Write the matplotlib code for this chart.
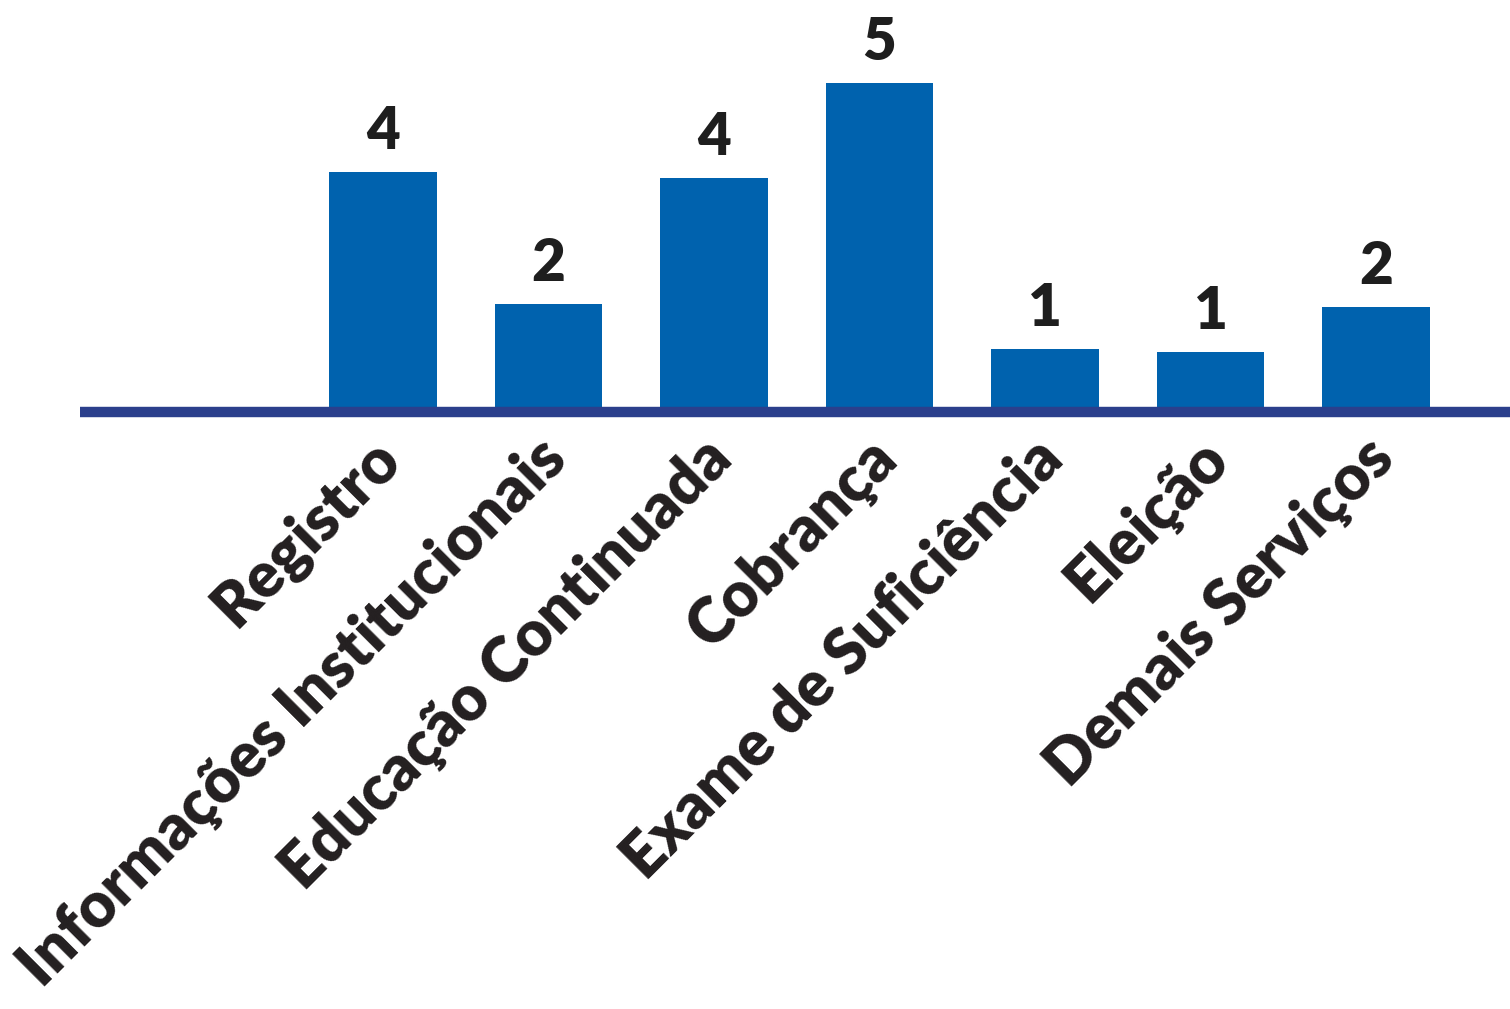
import matplotlib.pyplot as plt

# categorias e valores
categorias = ["Registro", "Informações Institucionais", "Educação Continuada",
              "Cobrança", "Exame de Suficiência", "Eleição", "Demais Serviços"]
rotulos = [4, 2, 4, 5, 1, 1, 2]
# altura desenhada das barras (lida da figura, não é proporcional aos rótulos)
alturas = [3.63, 1.60, 3.54, 5.00, 0.91, 0.86, 1.55]

plt.rcParams['font.family'] = ['Lato', 'DejaVu Sans']

fig = plt.figure(figsize=(15.1, 10.09), dpi=100)
ax = fig.add_axes([0, 0, 1, 1])

x = range(len(categorias))
bars = ax.bar(x, alturas, width=0.65, color='#0062AE', zorder=2)

# linha de base
ax.plot([-1.83, 6.9], [-0.06, -0.06], color='#2B3F8C', linewidth=7.5,
        solid_capstyle='butt', zorder=3)

for rect, v in zip(bars, rotulos):
    ax.annotate(str(v), (rect.get_x() + rect.get_width() / 2, rect.get_height()),
                xytext=(0, 10), textcoords='offset points', ha='center', va='bottom',
                fontsize=42, fontweight='heavy', color='#1E1E1E')

for i, nome in enumerate(categorias):
    ax.annotate(nome, (i, -0.06), xytext=(-9, -12), textcoords='offset points',
                ha='right', va='top', rotation=45, rotation_mode='anchor',
                fontsize=45, fontweight='heavy', color='#231F20')

ax.set_xlim(-2.314, 6.81)
ax.set_ylim(-9.246, 6.277)
ax.axis('off')

plt.savefig('out.png', dpi=100)
